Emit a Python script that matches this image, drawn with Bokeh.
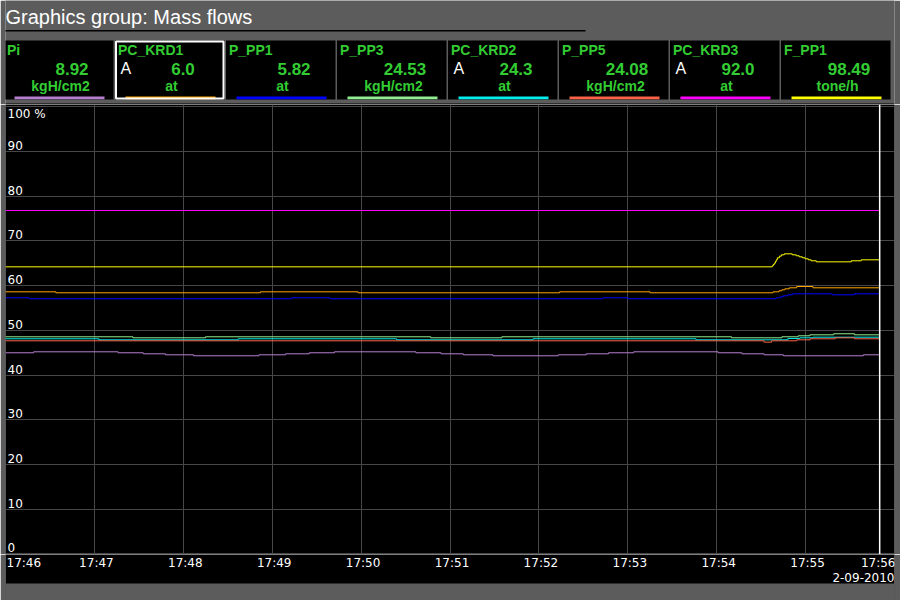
from datetime import datetime, timedelta

from bokeh.plotting import figure
from bokeh.layouts import column
from bokeh.models import Range1d, Grid, FixedTicker, Span, BoxAnnotation
from bokeh.core.properties import value
from bokeh.embed import file_html
from bokeh.resources import INLINE

# ---------------- data ----------------
TITLE = "Graphics group: Mass flows"
DATE_TEXT = "2-09-2010"
DAY = "2010-09-02"

tag_names = ["Pi", "PC_KRD1", "P_PP1", "P_PP3", "PC_KRD2", "P_PP5", "PC_KRD3", "F_PP1"]
tag_values = ["8.92", "6.0", "5.82", "24.53", "24.3", "24.08", "92.0", "98.49"]
tag_units = ["kgH/cm2", "at", "at", "kgH/cm2", "at", "kgH/cm2", "at", "tone/h"]
tag_auto = [False, True, False, False, True, False, True, False]
tag_colors = ["#b77fd2", "#ffa500", "#0000ff", "#90ee90", "#00eeee", "#ff6347", "#ff00ff", "#ffff00"]
selected_tag = 1

time_ticks = ["17:46", "17:47", "17:48", "17:49", "17:50", "17:51",
              "17:52", "17:53", "17:54", "17:55", "17:56"]
y_ticks = [0, 10, 20, 30, 40, 50, 60, 70, 80, 90, 100]
y_tick_labels = ["0", "10", "20", "30", "40", "50", "60", "70", "80", "90", "100 %"]
cursor_sec = 590  # seconds after 17:46:00

# series: seconds after 17:46:00, value in % of scale
pi_t = [0, 19, 76, 93, 108, 127, 171, 189, 205, 222, 277, 294, 309, 329, 373, 392, 407, 424, 481, 497, 512, 525, 579, 590]
pi_v = [44.97, 45.19, 44.97, 44.74, 44.52, 44.30, 44.52, 44.74, 44.97, 45.19, 44.97, 44.74, 44.52, 44.30, 44.52, 44.74, 44.97, 45.19, 44.97, 44.74, 44.52, 44.30, 44.52, 44.52]

krd1_t = [0, 34, 172, 238, 374, 435, 518, 522, 524, 526, 529, 534, 545, 590]
krd1_v = [58.61, 58.39, 58.61, 58.39, 58.61, 58.39, 58.61, 58.84, 59.06, 59.28, 59.51, 59.80, 59.51, 59.51]

pp1_t = [0, 16, 193, 219, 403, 420, 520, 523, 525, 528, 531, 558, 573, 590]
pp1_v = [57.27, 57.05, 57.27, 57.05, 57.27, 57.05, 57.27, 57.49, 57.72, 57.94, 58.17, 57.94, 58.17, 58.17]

pp3_t = [0, 86, 135, 287, 335, 490, 524, 535, 543, 559, 573, 590]
pp3_v = [48.55, 48.32, 48.55, 48.32, 48.55, 48.32, 48.55, 48.77, 48.99, 49.22, 48.99, 48.99]

krd2_t = [0, 63, 157, 264, 356, 466, 528, 536, 545, 590]
krd2_v = [48.10, 47.87, 48.10, 47.87, 48.10, 47.87, 48.17, 48.32, 48.46, 48.46]

pp5_t = [0, 512, 517, 534, 543, 560, 573, 590]
pp5_v = [47.65, 47.35, 47.65, 47.87, 48.10, 48.32, 48.10, 48.10]

krd3_t = [0, 590]
krd3_v = [76.80, 76.80]

fpp1_t = [0, 517.5, 518.2, 518.9, 519.6, 520.2, 520.9, 522.3, 523.6, 525.6, 531.0, 533.7,
          535.7, 537.8, 539.8, 541.8, 543.8, 547.2, 570.8, 577.5, 590]
fpp1_v = [64.20, 64.43, 64.72, 65.01, 65.39, 65.77, 66.22, 66.58, 66.89, 67.11, 66.89, 66.67,
          66.44, 66.22, 66.00, 65.77, 65.55, 65.32, 65.55, 65.77, 65.77]

series_t = [pi_t, krd1_t, pp1_t, pp3_t, krd2_t, pp5_t, krd3_t, fpp1_t]
series_v = [pi_v, krd1_v, pp1_v, pp3_v, krd2_v, pp5_v, krd3_v, fpp1_v]

# ---------------- helpers / styles ----------------
EPOCH = datetime(1970, 1, 1)


def to_ms(dt):
    return (dt - EPOCH).total_seconds() * 1000.0


tick_dt = [datetime.strptime(DAY + " " + s, "%Y-%m-%d %H:%M") for s in time_ticks]
tick_ms = [to_ms(d) for d in tick_dt]
t0 = tick_dt[0]

W = 900
FRAME_L, FRAME_R = 5, 894
HEAD_H, CHART_H, FOOT_H = 104, 450, 46
GRAY = "#5c5c5c"
GRID = "#474747"
GREEN = "#33cc33"
AX_FONT = value("DejaVu Sans")
UI_FONT = value("Liberation Sans")


def base_fig(height, x_range, y_range, bg="black"):
    f = figure(width=W, height=height, output_backend="svg", toolbar_location=None,
               x_range=x_range, y_range=y_range,
               x_axis_location=None, y_axis_location=None,
               min_border_left=FRAME_L, min_border_right=W - FRAME_R,
               min_border_top=0, min_border_bottom=0,
               border_fill_color=GRAY, background_fill_color=bg,
               outline_line_color=None)
    f.xgrid.visible = False
    f.ygrid.visible = False
    return f


# ---------------- header (pixel coordinates = page pixels) ----------------
head = base_fig(HEAD_H, Range1d(FRAME_L, FRAME_R), Range1d(HEAD_H, 0), bg=GRAY)
head.text(x=[5], y=[16], text=[TITLE], text_color="white", text_font=UI_FONT,
          text_font_size="20px", text_baseline="alphabetic", text_align="left")
head.quad(left=[3], right=[585], top=[29.5], bottom=[31], fill_color="black", line_color=None)

HX0, PITCH, TW, HT, HB = 3.5, 111, 109.5, 40, 99
n = len(tag_names)
Ls = [HX0 + i * PITCH for i in range(n)]
head.quad(left=Ls, right=[l + TW for l in Ls], top=[HT] * n, bottom=[HB] * n,
          fill_color="black", line_color=None)
head.quad(left=[l + 10.5 for l in Ls], right=[l + 100.5 for l in Ls], top=[96] * n,
          bottom=[98.7] * n, fill_color=tag_colors, line_color=None)
head.text(x=[l + 3 for l in Ls], y=[49] * n, text=tag_names, text_color=GREEN,
          text_font=UI_FONT, text_font_size="14px", text_font_style="bold",
          text_baseline="alphabetic", text_align="left")
head.text(x=[l + 68 for l in Ls], y=[68.5] * n, text=tag_values, text_color=GREEN,
          text_font=UI_FONT, text_font_size="17px", text_font_style="bold",
          text_baseline="alphabetic", text_align="center")
head.text(x=[l + 56.5 for l in Ls], y=[85.5] * n, text=tag_units, text_color=GREEN,
          text_font=UI_FONT, text_font_size="14px", text_font_style="bold",
          text_baseline="alphabetic", text_align="center")
aL = [l for l, a in zip(Ls, tag_auto) if a]
head.text(x=[l + 5.5 for l in aL], y=[68] * len(aL), text=["A"] * len(aL),
          text_color="white", text_font=UI_FONT, text_font_size="16px",
          text_baseline="alphabetic", text_align="left")
sL = Ls[selected_tag]
head.quad(left=[sL + 1], right=[sL + TW - 1], top=[HT + 1], bottom=[HB - 1],
          fill_color=None, line_color="white", line_width=2)
head.quad(left=[3], right=[894], top=[103], bottom=[104], fill_color="black", line_color=None)

# ---------------- chart ----------------
x_range = Range1d(tick_ms[0], tick_ms[-1])
chart = base_fig(CHART_H, x_range, Range1d(-0.16, 100.52))
chart.add_layout(Grid(dimension=0, ticker=FixedTicker(ticks=tick_ms),
                      grid_line_color=GRID, grid_line_width=1))
chart.add_layout(Grid(dimension=1, ticker=FixedTicker(ticks=y_ticks),
                      grid_line_color=GRID, grid_line_width=1))

for ts, vs, c in zip(series_t, series_v, tag_colors):
    xs = [t0 + timedelta(seconds=s) for s in ts]
    chart.step(x=xs, y=vs, mode="after", line_color=c, line_width=1)

chart.add_layout(Span(location=to_ms(t0 + timedelta(seconds=cursor_sec)), dimension="height",
                      line_color="white", line_width=1.5))

top_val = max(y_ticks)
low = [(v, l) for v, l in zip(y_ticks, y_tick_labels) if v != top_val]
chart.text(x=[tick_ms[0]] * len(low), y=[v for v, _ in low], text=[l for _, l in low],
           text_color="white", text_font=AX_FONT, text_font_size="12px",
           text_baseline="bottom", text_align="left", x_offset=2, y_offset=-1.5)
chart.text(x=[tick_ms[0]], y=[top_val], text=[y_tick_labels[y_ticks.index(top_val)]],
           text_color="white", text_font=AX_FONT, text_font_size="12px",
           text_baseline="top", text_align="left", x_offset=2, y_offset=0)

# ---------------- footer: time labels ----------------
foot = base_fig(FOOT_H, x_range, Range1d(FOOT_H, 0))
foot.add_layout(BoxAnnotation(bottom=29, top=FOOT_H, fill_color=GRAY, fill_alpha=1,
                              line_color=None, level="underlay"))
foot.text(x=[tick_ms[0]], y=[8.5], text=[time_ticks[0]], text_color="white",
          text_font=AX_FONT, text_font_size="12px", text_baseline="middle",
          text_align="left", x_offset=1)
foot.text(x=tick_ms[1:-1], y=[8.5] * (len(tick_ms) - 2), text=time_ticks[1:-1],
          text_color="white", text_font=AX_FONT, text_font_size="12px",
          text_baseline="middle", text_align="center", x_offset=2)
foot.text(x=[tick_ms[-1]], y=[8.5], text=[time_ticks[-1]], text_color="white",
          text_font=AX_FONT, text_font_size="12px", text_baseline="middle",
          text_align="right", x_offset=1)
foot.text(x=[tick_ms[-1]], y=[23], text=[DATE_TEXT], text_color="white",
          text_font=AX_FONT, text_font_size="12px", text_baseline="middle",
          text_align="right", x_offset=0)

layout = column(head, chart, foot, spacing=0)
open("out.html", "w").write(file_html(layout, INLINE))
